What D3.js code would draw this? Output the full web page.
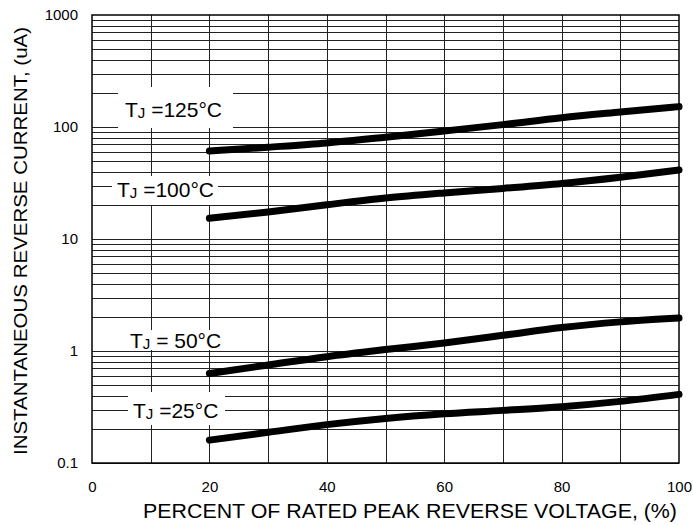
<!DOCTYPE html>
<html>
<head>
<meta charset="utf-8">
<script src="https://cdn.jsdelivr.net/npm/d3@7"></script>
<style>
  body { margin: 0; background: #fff; }
  svg { display: block; font-family: Arial, "Liberation Sans", sans-serif; }
</style>
</head>
<body>
<svg id="chart" width="693" height="525"></svg>
<script>
// 数据：反向电压百分比 和 各结温下的反向电流 (uA)
const voltagePct = [20, 30, 40, 50, 60, 70, 80, 90, 100];
const current125 = [61, 66, 72, 81, 92, 105, 121, 136, 152];
const current100 = [15.3, 17.4, 20.2, 23.2, 25.8, 28.3, 31.3, 35.6, 41.3];
const current50 = [0.63, 0.75, 0.89, 1.03, 1.18, 1.38, 1.62, 1.82, 1.97];
const current25 = [0.16, 0.188, 0.22, 0.25, 0.275, 0.295, 0.318, 0.355, 0.41];
const tempLabels = ["125°C", "100°C", " 50°C", "25°C"];
const xTicks = [0, 20, 40, 60, 80, 100];
const yTicks = [0.1, 1, 10, 100, 1000];
const xTitle = "PERCENT OF RATED PEAK REVERSE VOLTAGE, (%)";
const yTitle = "INSTANTANEOUS REVERSE CURRENT, (uA)";

const series = [current125, current100, current50, current25];

// 布局
const margin = { left: 92, right: 14, top: 15, bottom: 62 };
const width = 693, height = 525;
const plotW = width - margin.left - margin.right;
const plotH = height - margin.top - margin.bottom;

const svg = d3.select("#chart");

const x = d3.scaleLinear().domain([0, 100]).range([margin.left, margin.left + plotW]);
const y = d3.scaleLog().domain([0.1, 1000]).range([margin.top + plotH, margin.top]);

// 网格线
const minorY = [];
for (let k = -1; k <= 2; k++) {
  for (let d = 1; d <= 9; d++) minorY.push(d * Math.pow(10, k));
}
const gridX = d3.range(10, 100, 10);

svg.append("g")
  .attr("transform", `translate(${margin.left},0)`)
  .call(d3.axisLeft(y).tickValues(minorY).tickSize(-plotW).tickFormat(""))
  .call(g => g.select(".domain").remove())
  .call(g => g.selectAll("line").attr("stroke", "#222").attr("shape-rendering", "crispEdges"));

svg.append("g")
  .attr("transform", `translate(0,${margin.top + plotH})`)
  .call(d3.axisBottom(x).tickValues(gridX).tickSize(-plotH).tickFormat(""))
  .call(g => g.select(".domain").remove())
  .call(g => g.selectAll("line").attr("stroke", "#222").attr("shape-rendering", "crispEdges"));

// 边框
svg.append("rect")
  .attr("x", margin.left).attr("y", margin.top)
  .attr("width", plotW).attr("height", plotH)
  .attr("fill", "none").attr("stroke", "#000").attr("stroke-width", 1.5);

// 坐标轴标签
svg.append("g")
  .attr("transform", `translate(0,${margin.top + plotH})`)
  .call(d3.axisBottom(x).tickValues(xTicks).tickSize(0).tickPadding(18))
  .call(g => g.select(".domain").remove())
  .call(g => g.selectAll("text").attr("font-size", 15).attr("fill", "#000").attr("font-family", null));

svg.append("g")
  .attr("transform", `translate(${margin.left},0)`)
  .call(d3.axisLeft(y).tickValues(yTicks).tickSize(0).tickPadding(14).tickFormat(d3.format("~g")))
  .call(g => g.select(".domain").remove())
  .call(g => g.selectAll("text").attr("font-size", 15).attr("fill", "#000").attr("font-family", null));

// 曲线
const line = d3.line()
  .x((d, i) => x(voltagePct[i]))
  .y(d => y(d))
  .curve(d3.curveMonotoneX);

svg.selectAll("path.curve")
  .data(series)
  .enter()
  .append("path")
  .attr("class", "curve")
  .attr("d", line)
  .attr("fill", "none")
  .attr("stroke", "#000")
  .attr("stroke-width", 7)
  .attr("stroke-linecap", "round");

// 温度标签 (白底遮住网格)
const labelBoxes = [
  { x0: 118, y0: 87, x1: 233, y1: 128, tx: 125, ty: 117 },
  { x0: 112, y0: 176, x1: 218, y1: 205, tx: 117, ty: 197 },
  { x0: 128, y0: 330, x1: 225, y1: 350, tx: 130, ty: 348 },
  { x0: 128, y0: 392, x1: 225, y1: 425, tx: 133, ty: 418 }
];

tempLabels.forEach((t, i) => {
  const b = labelBoxes[i];
  svg.append("rect")
    .attr("x", b.x0).attr("y", b.y0)
    .attr("width", b.x1 - b.x0).attr("height", b.y1 - b.y0)
    .attr("fill", "#fff");
  const txt = svg.append("text")
    .attr("x", b.tx).attr("y", b.ty)
    .attr("font-size", 21)
    .attr("fill", "#000");
  txt.append("tspan").text("T");
  txt.append("tspan").attr("font-size", 15).attr("dy", 1).text("J");
  txt.append("tspan").attr("dy", -1).text(" =" + t);
});

// 轴标题
svg.append("text")
  .attr("x", 410)
  .attr("y", 518)
  .attr("text-anchor", "middle")
  .attr("font-size", 20)
  .attr("textLength", 534)
  .attr("lengthAdjust", "spacingAndGlyphs")
  .text(xTitle);

svg.append("text")
  .attr("transform", `translate(27,${margin.top + plotH / 2 + 2}) rotate(-90)`)
  .attr("text-anchor", "middle")
  .attr("font-size", 19)
  .attr("textLength", 428)
  .attr("lengthAdjust", "spacingAndGlyphs")
  .text(yTitle);
</script>
</body>
</html>
